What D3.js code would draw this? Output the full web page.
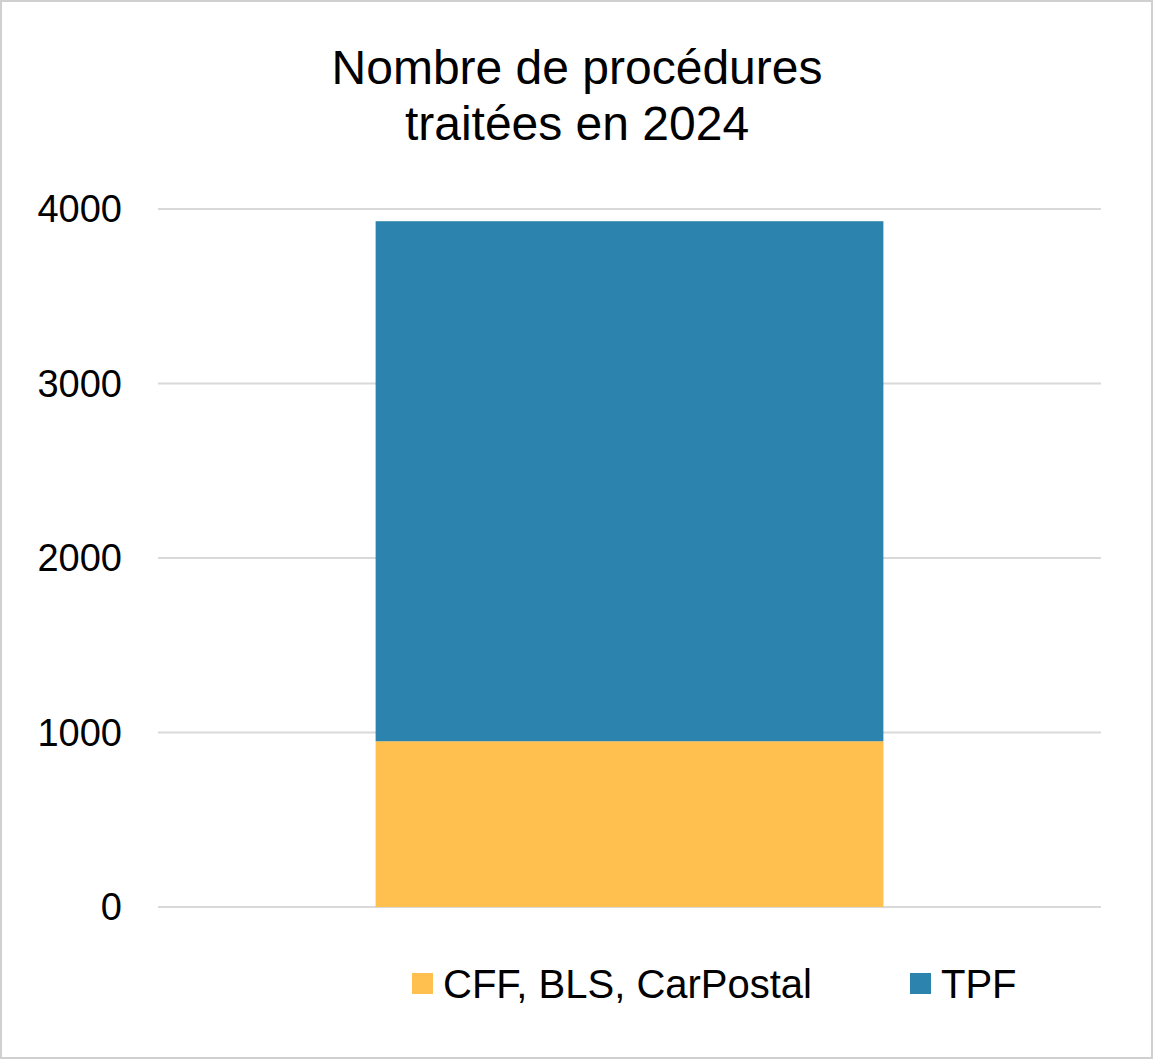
<!DOCTYPE html>
<html lang="fr">
<head>
  <meta charset="UTF-8">
  <script src="https://cdn.jsdelivr.net/npm/d3@7"></script>
  <style>body{margin:0;background:#fff}</style>
</head>
<body>
  <svg width="1154" height="1060"></svg>
  <script>
    var categories = ["2024"]
    var seriesNames = ["CFF, BLS, CarPostal", "TPF"]
    var cffValues = [950]
    var tpfValues = [2980]
    var tickValues = [0, 1000, 2000, 3000, 4000]
    var colors = ["#ffc04f", "#2c83ad"]

    var svg = d3.select("svg")
    svg.append("rect").attr("x", 1).attr("y", 1).attr("width", 1151).attr("height", 1057)
      .attr("fill", "#fff").attr("stroke", "#d0d0d0").attr("stroke-width", 2)

    var x = d3.scaleBand().domain(categories).range([158, 1101]).padding(0.30)
    var y = d3.scaleLinear().domain([0, 4000]).range([907, 209])

    // grille
    svg.selectAll(".grid").data(tickValues).enter().append("line")
      .attr("x1", 158).attr("x2", 1101)
      .attr("y1", d => y(d)).attr("y2", d => y(d))
      .attr("stroke", "#d9d9d9").attr("stroke-width", 2)

    svg.selectAll(".tick").data(tickValues).enter().append("text")
      .attr("x", 122).attr("y", d => y(d) + 13)
      .attr("text-anchor", "end").attr("font-family", "Liberation Sans, Arial")
      .attr("font-size", 38).text(d => d)

    var rows = categories.map((c, i) => ({ cat: c, s0: cffValues[i], s1: tpfValues[i] }))
    var stacked = d3.stack().keys(["s0", "s1"])(rows)

    svg.selectAll(".layer").data(stacked).enter().append("g")
      .attr("fill", (d, i) => colors[i])
      .selectAll("rect").data(d => d).enter().append("rect")
      .attr("x", d => x(d.data.cat)).attr("width", x.bandwidth())
      .attr("y", d => y(d[1])).attr("height", d => y(d[0]) - y(d[1]))

    // titre
    svg.append("text").attr("x", 577).attr("text-anchor", "middle")
      .attr("font-family", "Liberation Sans, Arial").attr("font-size", 48)
      .selectAll("tspan").data(["Nombre de procédures", "traitées en 2024"]).enter()
      .append("tspan").attr("x", 577).attr("y", (d, i) => 84 + i * 56).text(d => d)

    // légende
    var legendX = [412, 910]
    var lg = svg.selectAll(".leg").data(seriesNames).enter().append("g")
      .attr("transform", (d, i) => "translate(" + legendX[i] + ",973)")
    lg.append("rect").attr("width", 21).attr("height", 21).attr("fill", (d, i) => colors[i])
    lg.append("text").attr("x", 31).attr("y", 25)
      .attr("font-family", "Liberation Sans, Arial").attr("font-size", 40).text(d => d)
  </script>
</body>
</html>
